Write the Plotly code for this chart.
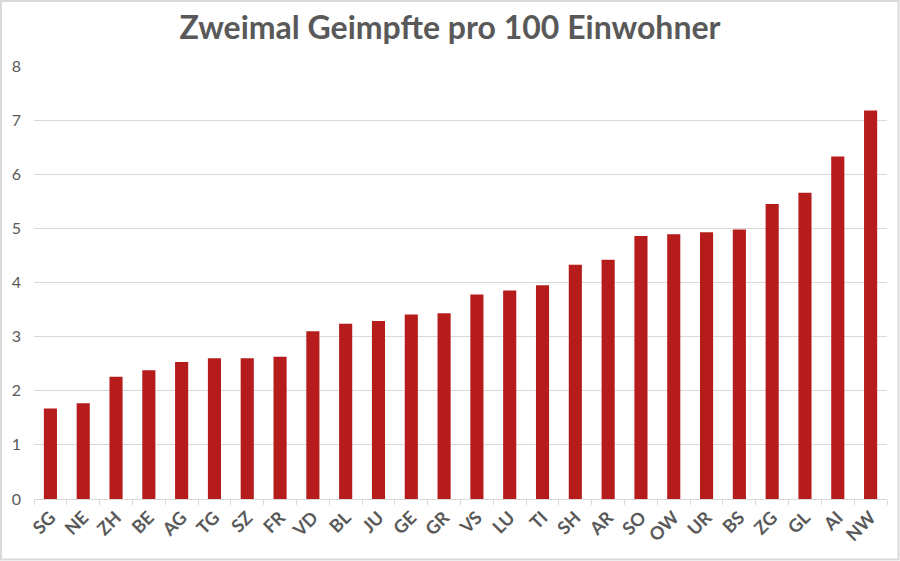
import plotly.graph_objects as go

cantons = ["SG", "NE", "ZH", "BE", "AG", "TG", "SZ", "FR", "VD", "BL", "JU", "GE", "GR",
           "VS", "LU", "TI", "SH", "AR", "SO", "OW", "UR", "BS", "ZG", "GL", "AI", "NW"]
values = [1.67, 1.77, 2.26, 2.38, 2.53, 2.60, 2.60, 2.63, 3.10, 3.24, 3.29, 3.41, 3.43,
          3.78, 3.85, 3.95, 4.33, 4.42, 4.86, 4.89, 4.93, 4.98, 5.45, 5.66, 6.33, 7.18]
y_ticks = [0, 1, 2, 3, 4, 5, 6, 7, 8]

W, H = 900, 561
ML, MR, MT, MB = 34, 13, 66, 62
pw, ph = W - ML - MR, H - MT - MB

fig = go.Figure(go.Bar(x=cantons, y=values, marker_color="#B71C1C", marker_line_width=0))

fig.update_layout(
    width=W, height=H,
    margin=dict(l=ML, r=MR, t=MT, b=MB, autoexpand=False),
    paper_bgcolor="white", plot_bgcolor="white",
    bargap=0.6,
    showlegend=False,
    font=dict(family="Lato", color="#595959"),
    title=dict(text="<b>Zweimal Geimpfte pro 100 Einwohner</b>", x=0.5, xanchor="center",
               y=1 - 28 / H, yanchor="middle", font=dict(size=32, color="#595959", family="Lato")),
    xaxis=dict(tickangle=-45, tickfont=dict(size=18, color="#595959", family="Lato"),
               showline=True, linecolor="#d9d9d9", linewidth=1, automargin=False,
               ticks="outside", tickson="boundaries", ticklen=5, tickcolor="#d9d9d9",
               showgrid=False),
    yaxis=dict(range=[0, 8], tickvals=y_ticks, tickfont=dict(size=16, color="#595959"),
               showgrid=True, gridcolor="#d9d9d9", gridwidth=1, zeroline=False,
               ticks="", ticklabelstandoff=12, automargin=False),
    shapes=[dict(type="rect", xref="paper", yref="paper",
                 x0=-(ML - 1) / pw, x1=1 + (MR - 1.5) / pw,
                 y0=-(MB - 1.5) / ph, y1=1 + (MT - 1) / ph,
                 line=dict(color="#d9d9d9", width=2))],
)
fig.update_xaxes(tickfont_weight="bold")

fig.write_html("out.html", config={"displayModeBar": False},
               post_script="document.body.style.margin='0';document.body.style.overflow='hidden';")
